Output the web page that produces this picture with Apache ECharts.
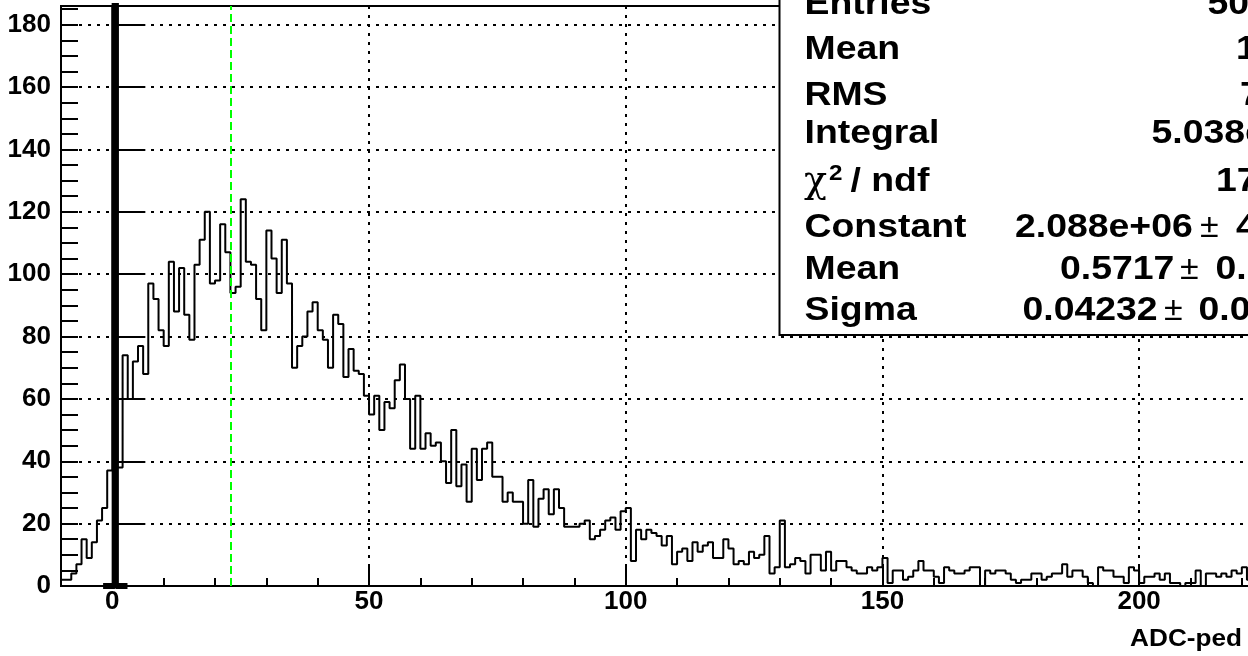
<!DOCTYPE html>
<html><head><meta charset="utf-8">
<script src="https://cdn.jsdelivr.net/npm/echarts@6/dist/echarts.min.js"></script>
<style>html,body{margin:0;padding:0;background:#fff;overflow:hidden}#c{width:1248px;height:656px}</style>
</head><body><div id="c"></div>
<script>
// ---------- data ----------
const binStart = -10;      // low edge of first bin, bin width 1
const counts = [
  2,2,4,7,15,9,14,21,25,37,
  221000,38,74,60,72,77,68,97,92,82,
  77,104,88,102,87,79,103,111,120,97,
  98,116,107,94,96,124,104,103,92,82,
  114,105,94,111,97,70,77,80,88,91,
  82,79,70,87,84,67,76,69,68,61,
  55,61,50,59,57,66,71,60,44,61,
  44,49,45,46,40,33,50,32,39,27,
  44,34,44,46,35,35,27,30,27,27,
  20,34,19,28,31,23,31,25,19,19,
  19,20,21,15,16,18,21,22,18,24,
  25,8,18,15,18,17,16,13,16,7,
  11,12,8,14,11,13,14,9,9,15,
  12,7,8,7,11,9,10,16,4,6,
  21,6,7,9,8,4,10,10,5,11,
  5,8,8,6,5,4,4,6,5,6,
  9,1,5,5,2,3,5,8,5,5,
  3,1,6,5,4,4,5,6,6,0,
  5,4,5,5,4,2,1,2,2,4,
  4,2,3,4,4,7,3,5,5,3,
  1,0,6,5,5,3,3,1,6,5,
  1,3,3,4,2,4,1,1,0,1,
  1,5,0,4,4,3,4,3,5,4,
  6,2,3,4,3
];
const fitX = [-1.8, 0.45, 0.5717, 0.69, 2.95];
const fitY = [0, 0, 2088000, 0, 0];
const markerX = 23.1;
const xLabels = [0, 50, 100, 150, 200];
const yLabels = [0, 20, 40, 60, 80, 100, 120, 140, 160, 180];
const xTitle = 'ADC-ped';
const statNames  = ['Entries', 'Mean', 'RMS', 'Integral', 'χ', 'Constant', 'Mean', 'Sigma'];
const statValues = ['503848', '1.061', '7.123', '5.038e+05', '17.6 / 2', '2.088e+06', '0.5717', '0.04232'];
const statErrors = ['', '', '', '', '', '4176', '0.0001', '0.00012'];

// ---------- layout ----------
const xMin = -10, xMax = 225, xMajorStart = -50;
const yMin = 0, yMax = 186;
const PX = 5.134, gLeft = 61, gTop = 6, gH = 580;
const FONT = '"Liberation Sans", Arial, Helvetica, sans-serif';

const histData = counts.map((c, i) => [binStart + i, c]);
histData.push([binStart + counts.length, counts[counts.length - 1]]);
const fitData = fitX.map((x, i) => [x, fitY[i]]);

const FS = 32.5, SX = 1.15, MID = 0.3465;
function txt(str, x, base, o) {
  o = o || {};
  const fs = o.fs || FS;
  return {
    type: 'text', x: x, y: base - MID * fs, scaleX: o.sx || SX, z: 101, silent: true,
    style: {
      text: str, fill: '#000',
      font: (o.weight || 'bold') + ' ' + fs + 'px ' + (o.family || FONT),
      textAlign: o.align || 'left', textVerticalAlign: 'middle', verticalAlign: 'middle'
    }
  };
}
const baselines = [16.7, 61.7, 107.3, 145, 193.3, 239.3, 281.7, 322.7];
const valueX = [1207.5, 1236, 1240, 1151.5, 1216, 1015, 1060, 1022.5];
const pmX = [0, 0, 0, 0, 0, 1200, 1180, 1164];
const errX = [0, 0, 0, 0, 0, 1236, 1215.5, 1198.5];

const graphics = [{
  type: 'rect', z: 100, silent: true,
  shape: { x: 779.5, y: -20, width: 600, height: 355 },
  style: { fill: '#fff', stroke: '#000', lineWidth: 2 }
}];
statNames.forEach((n, i) => {
  if (i === 4) {
    graphics.push(txt('χ', 804, baselines[i] + 2, { weight: 'normal', family: '"DejaVu Serif", "Liberation Serif", serif', fs: 38, sx: 1.0 }));
    graphics.push(txt('2', 829, baselines[i] - 12, { fs: 22, sx: 1.1 }));
    graphics.push(txt('/ ndf', 850.5, baselines[i]));
  } else {
    graphics.push(txt(n, 804.5, baselines[i]));
  }
  graphics.push(txt(statValues[i], valueX[i], baselines[i]));
  if (statErrors[i]) {
    graphics.push(txt('±', pmX[i], baselines[i], { weight: 'normal', fs: 34, sx: 1.0 }));
    graphics.push(txt(statErrors[i], errX[i], baselines[i]));
  }
});
graphics.push(txt(xTitle, 1242, 648, { fs: 24, align: 'right', sx: 1.09 }));

const black = '#000';
const dotted = { color: black, width: 2, type: [3, 6] };
const labelFont = { fontSize: 26, fontWeight: 'bold', color: black, fontFamily: FONT };
const option = {
  animation: false,
  backgroundColor: '#fff',
  textStyle: { fontFamily: FONT },
  grid: [
    { left: gLeft, top: gTop, width: (xMax - xMin) * PX, height: gH, show: true,
      borderColor: black, borderWidth: 2, backgroundColor: 'transparent',
      containLabel: false, outerBoundsMode: 'none' },
    { left: gLeft + (xMajorStart - xMin) * PX, top: gTop, width: (xMax - xMajorStart) * PX, height: gH,
      show: false, containLabel: false, outerBoundsMode: 'none' }
  ],
  xAxis: [
    { gridIndex: 0, type: 'value', min: xMin, max: xMax, interval: 10,
      axisLine: { show: true, onZero: false, lineStyle: { color: black, width: 2 } },
      axisTick: { show: true, inside: true, length: 8, lineStyle: { color: black, width: 2 } },
      axisLabel: { show: false }, splitLine: { show: false } },
    { gridIndex: 1, type: 'value', min: xMajorStart, max: xMax, interval: 50,
      axisLine: { show: false, onZero: false },
      axisTick: { show: true, inside: true, length: 19, lineStyle: { color: black, width: 2 } },
      axisLabel: Object.assign({ show: true, margin: 3, showMinLabel: false, showMaxLabel: false,
        formatter: v => xLabels.indexOf(v) >= 0 ? String(v) : '' }, labelFont),
      splitLine: { show: true, lineStyle: dotted } }
  ],
  yAxis: [
    { gridIndex: 0, type: 'value', min: yMin, max: yMax, interval: 20,
      axisLine: { show: true, lineStyle: { color: black, width: 2 } },
      axisTick: { show: true, inside: true, length: 33, lineStyle: { color: black, width: 2 } },
      axisLabel: Object.assign({ show: true, margin: 10, padding: [6, 0, 0, 0], showMaxLabel: false,
        formatter: v => yLabels.indexOf(v) >= 0 ? String(v) : '' }, labelFont),
      splitLine: { show: true, lineStyle: dotted } },
    { gridIndex: 1, type: 'value', min: yMin, max: yMax, show: false },
    { gridIndex: 0, type: 'value', min: yMin, max: yMax, interval: 5, position: 'left',
      axisLine: { show: false },
      axisTick: { show: true, inside: true, length: 17, lineStyle: { color: black, width: 2 } },
      axisLabel: { show: false }, splitLine: { show: false } }
  ],
  series: [
    { type: 'line', name: 'hist', xAxisIndex: 0, yAxisIndex: 0, step: 'end', symbol: 'none',
      data: histData, lineStyle: { color: black, width: 2 }, z: 3,
      markLine: { silent: true, symbol: ['none', 'none'], label: { show: false },
        lineStyle: { color: '#00ff00', width: 2, type: [8, 4] },
        data: [{ xAxis: markerX }] } },
    { type: 'line', name: 'fit', xAxisIndex: 0, yAxisIndex: 0, symbol: 'none',
      data: fitData, lineStyle: { color: black, width: 6 }, z: 4 }
  ],
  graphic: { elements: graphics }
};
const chart = echarts.init(document.getElementById('c'), null, { renderer: 'canvas' });
chart.setOption(option);
</script>
</body></html>
